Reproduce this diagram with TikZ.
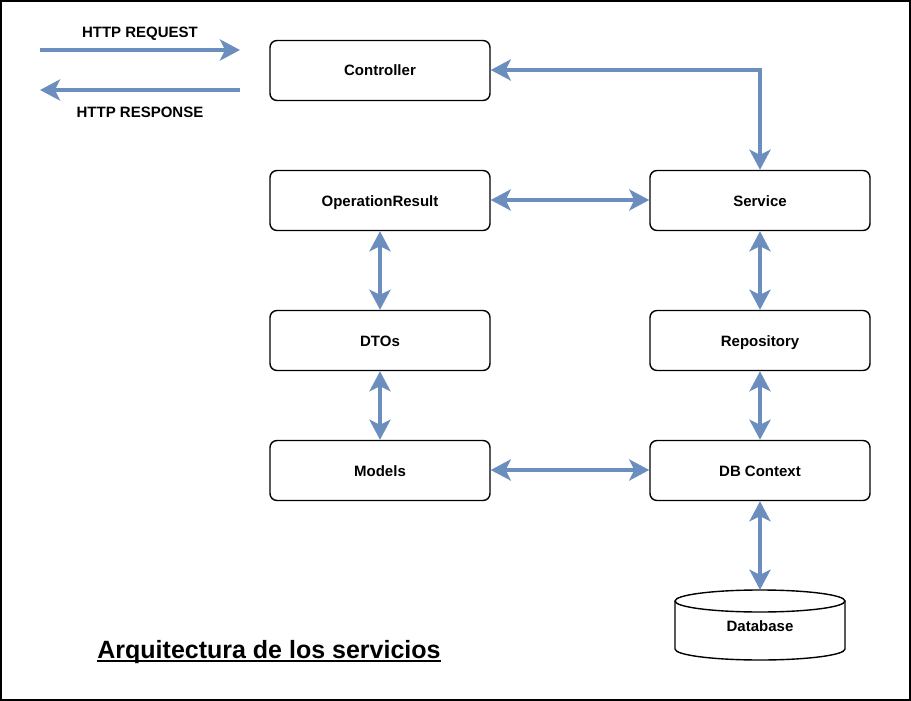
\documentclass[tikz,border=0pt]{standalone}
\usepackage{fontspec}
\setmainfont{Liberation Sans}
\usetikzlibrary{arrows.meta}
\definecolor{arrowblue}{HTML}{6C8EBF}
\begin{document}
\begin{tikzpicture}[x=1pt,y=-1pt,
  txt/.style={font=\fontsize{15}{18}\selectfont\bfseries,text height=11pt,text depth=0pt},
  box/.style={txt,draw=black,line width=1.4pt,rounded corners=7pt,fill=white,minimum width=220pt,minimum height=60pt,inner sep=0pt},
  tipx/.tip={Stealth[length=20pt,width=21pt,inset=5pt]},
  conn/.style={draw=arrowblue,line width=4pt,tipx-tipx},
  oneway/.style={draw=arrowblue,line width=4pt,-tipx},
  lbl/.style={txt,inner sep=0pt}]
\useasboundingbox (0,0) rectangle (911,701);
\draw[line width=2pt] (1,1) rectangle (910,700);

\node[box] (ctrl) at (380,70.5) {Controller};
\node[box] (opres) at (380,200.5) {OperationResult};
\node[box] (dtos) at (380,340.5) {DTOs};
\node[box] (models) at (380,470.5) {Models};
\node[box] (service) at (760,200.5) {Service};
\node[box] (repo) at (760,340.5) {Repository};
\node[box] (dbctx) at (760,470.5) {DB Context};

% database cylinder
\draw[line width=1.4pt,fill=white] (675,601) -- (675,649) arc[start angle=180,end angle=0,x radius=85,y radius=11] -- (845,601);
\draw[line width=1.4pt,fill=white] (760,601) ellipse[x radius=85,y radius=11];
\node[txt,minimum width=170pt,minimum height=70pt,inner sep=0pt] (db) at (760,625) {\raisebox{-1pt}{Database}};

\coordinate (reqA) at (40,50);
\coordinate (reqB) at (240,50);
\coordinate (resA) at (240,90);
\coordinate (resB) at (40,90);
\draw[oneway] (reqA) -- (reqB);
\draw[oneway] (resA) -- (resB);
\node[lbl] (reqlbl) at (140,32) {HTTP REQUEST};
\node[lbl] (reslbl) at (140,112) {HTTP RESPONSE};

\draw[conn] (ctrl.east |- 0,70) -- (760,70) -- (service.north);
\draw[conn] (opres.east |- 0,200) -- (service.west |- 0,200);
\draw[conn] (opres.south) -- (dtos.north);
\draw[conn] (dtos.south) -- (models.north);
\draw[conn] (models.east |- 0,470) -- (dbctx.west |- 0,470);
\draw[conn] (service.south) -- (repo.north);
\draw[conn] (repo.south) -- (dbctx.north);
\draw[conn] (dbctx.south) -- (db.north);

\node[font=\fontsize{25}{30}\selectfont\bfseries,inner sep=0pt,anchor=base] (title) at (269,658) {Arquitectura de los servicios};
\draw[line width=2pt] ([yshift=-3pt]title.base west) -- ([yshift=-3pt]title.base east);
\end{tikzpicture}
\end{document}
